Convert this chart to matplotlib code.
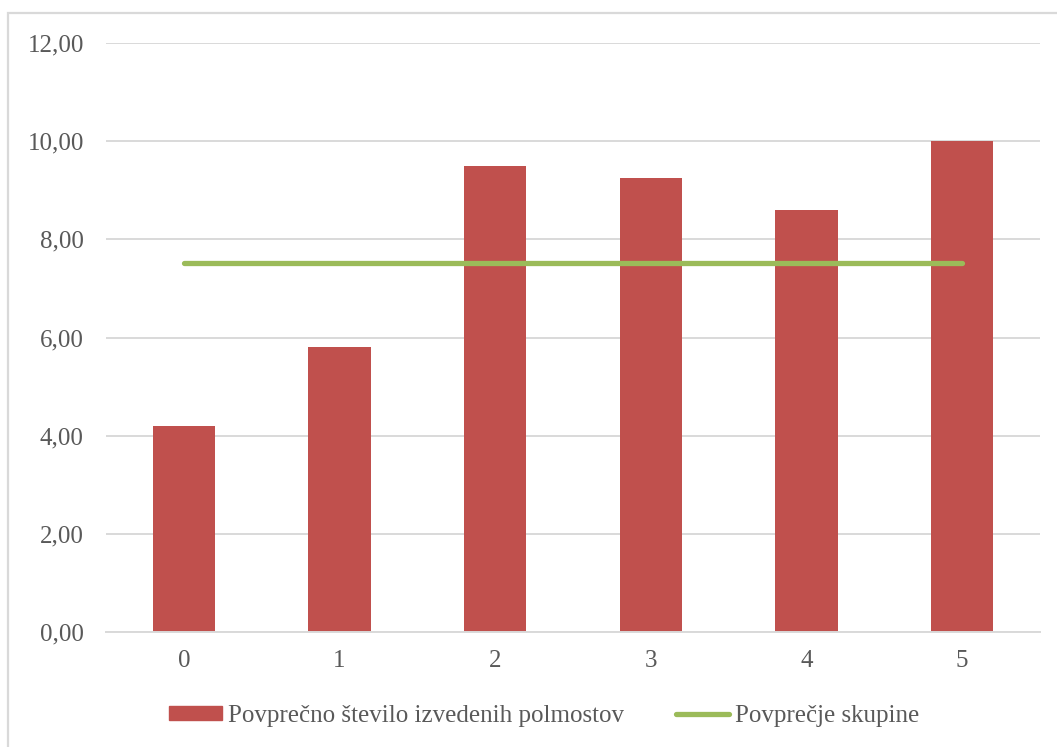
import matplotlib
matplotlib.use('Agg')
import matplotlib.pyplot as plt
from matplotlib.patches import Rectangle
from matplotlib.lines import Line2D

# podatki
kategorije = ['0', '1', '2', '3', '4', '5']
povprecje_polmostov = [4.2, 5.8, 9.5, 9.25, 8.6, 10.0]
povprecje_skupine = [7.52, 7.52, 7.52, 7.52, 7.52, 7.52]
y_ticki = [0, 2, 4, 6, 8, 10, 12]

RDECA = '#C0504D'
ZELENA = '#9BBB59'
SIVA_TEKST = '#595959'
SIVA_MREZA = '#D9D9D9'

plt.rcParams['font.family'] = ['Liberation Serif', 'DejaVu Serif']

fig = plt.figure(figsize=(10.57, 7.47), dpi=100)

# okvir grafikona (spodnji in desni rob sta izven slike)
fig.patches.append(Rectangle((8 / 1057, -0.1), 1.2, 1.1 - 13 / 747, transform=fig.transFigure,
                             fill=False, edgecolor=SIVA_MREZA, linewidth=1.6))

ax = fig.add_axes([106 / 1057, 1 - 632 / 747, (1040 - 106) / 1057, (632 - 43) / 747])
x = range(len(kategorije))
ax.bar(x, povprecje_polmostov, width=0.4, color=RDECA, zorder=2,
       label='Povprečno število izvedenih polmostov')
ax.plot(x, povprecje_skupine, color=ZELENA, linewidth=3.8, solid_capstyle='round', zorder=3,
        label='Povprečje skupine')

ax.set_xlim(-0.5, len(kategorije) - 0.5)
ax.set_ylim(0, 12)
ax.set_yticks(y_ticki)
ax.set_yticklabels([f'{v:.2f}'.replace('.', ',') for v in y_ticki])
ax.set_xticks(list(x))
ax.set_xticklabels(kategorije)
ax.tick_params(length=0, labelsize=18, colors=SIVA_TEKST, pad=13)
ax.tick_params(axis='y', pad=16)
ax.yaxis.grid(True, color=SIVA_MREZA, linewidth=1.4, zorder=0)
ax.set_axisbelow(True)
for s in ['top', 'right', 'left']:
    ax.spines[s].set_visible(False)
ax.spines['bottom'].set_color(SIVA_MREZA)
ax.spines['bottom'].set_linewidth(1.4)

ročaji = [Rectangle((0, 0), 1, 1, color=RDECA),
          Line2D([0], [0], color=ZELENA, linewidth=3.8, solid_capstyle='round')]
fig.legend(ročaji, ['Povprečno število izvedenih polmostov', 'Povprečje skupine'],
           loc='center', bbox_to_anchor=(0.515, 1 - 716 / 747), ncol=2, frameon=False,
           fontsize=18, labelcolor=SIVA_TEKST, handlelength=2.1, handleheight=0.5,
           handletextpad=0.25, columnspacing=2.1)

fig.savefig('out.png', dpi=100)
